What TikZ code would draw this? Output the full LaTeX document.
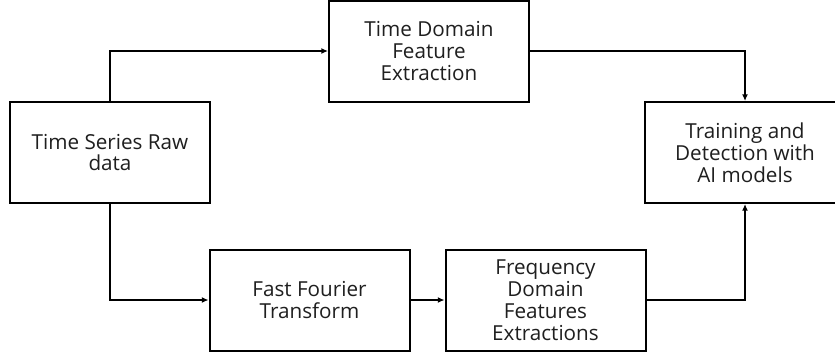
\documentclass[tikz,border=0pt]{standalone}
\usepackage{fontspec}
\setmainfont{Open Sans}
\usetikzlibrary{arrows.meta}
\begin{document}
\begin{tikzpicture}[x=0.75pt,y=-0.75pt,
  stagebox/.style={draw=black,line width=1.5pt,fill=white,minimum width=150pt,minimum height=75.75pt,
    inner sep=0pt,align=center,font=\fontsize{15.5}{16.4}\selectfont,text=black!88},
  flow/.style={line width=1.3pt,-{Latex[length=5pt,width=4.5pt]}}]
\useasboundingbox (0,0) rectangle (835,354);
\fill[white] (0,0) rectangle (835,354);
% processing stages
\node[stagebox] (raw)   at (110,152.5) {Time Series Raw\\data};
\node[stagebox] (tdom)  at (429,51)    {Time Domain\\Feature\\Extraction};
\node[stagebox] (train) at (745,152.5) {Training and\\Detection with\\AI models};
\node[stagebox] (fft)   at (309.5,300) {Fast Fourier\\Transform};
\node[stagebox] (fdom)  at (545.5,300) {Frequency\\Domain\\Features\\Extractions};
% connectors
\draw[flow] (raw.north) |- (tdom.west);
\draw[flow] (tdom.east) -| (train.north);
\draw[flow] (raw.south) |- (fft.west);
\draw[flow] (fft.east) -- (fdom.west);
\draw[flow] (fdom.east) -| (train.south);
\end{tikzpicture}
\end{document}
